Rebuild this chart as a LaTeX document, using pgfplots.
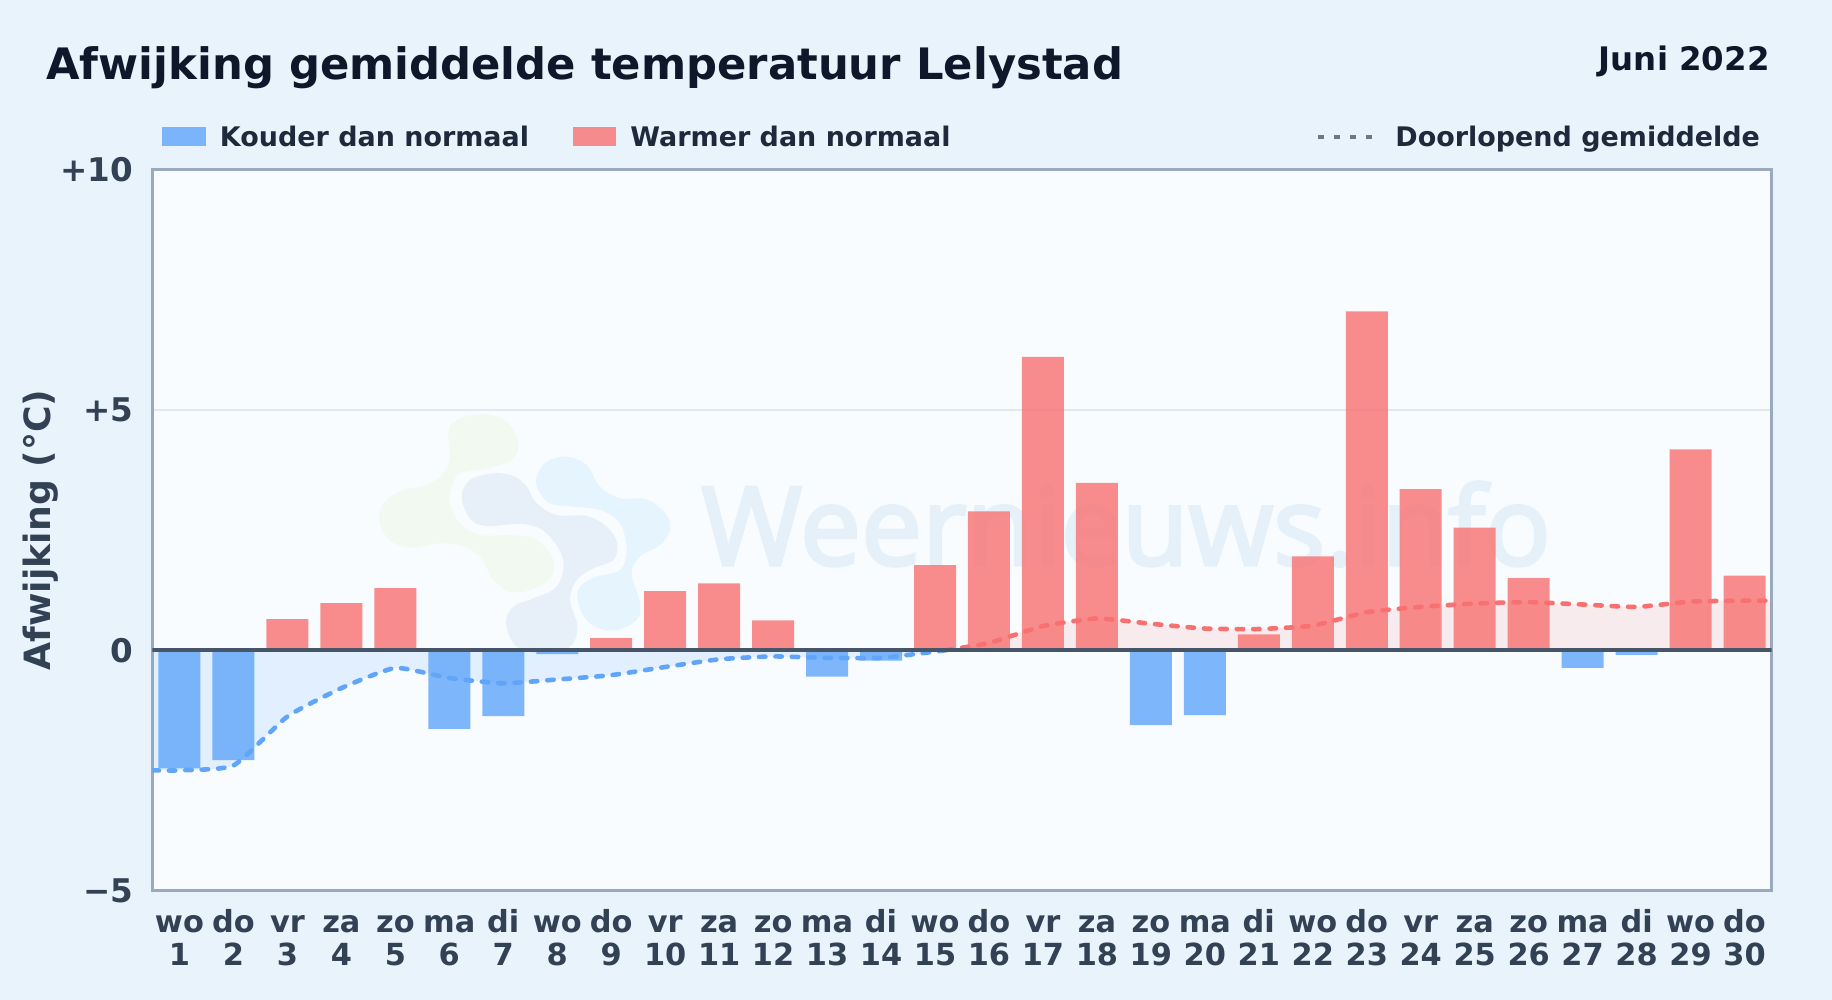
\documentclass[border=0pt]{standalone}
\usepackage{fontspec}
\setmainfont{DejaVu Sans}
\newfontfamily\wmfont[FakeBold=3]{Open Sans}
\usepackage{pgfplots}
\usepackage{pgfplotstable}
\pgfplotsset{compat=1.18}
\definecolor{bgpage}{HTML}{E9F3FC}
\definecolor{bgplot}{HTML}{F8FCFF}
\definecolor{titlecol}{HTML}{0F172A}
\definecolor{legcol}{HTML}{1E293B}
\definecolor{tickcol}{HTML}{334155}
\definecolor{spine}{HTML}{9AA9BE}
\definecolor{zeroline}{HTML}{475569}
\definecolor{gridcol}{HTML}{E2E8F0}
\definecolor{koud}{HTML}{60A5FA}
\definecolor{warm}{HTML}{F87171}
\definecolor{legdots}{HTML}{6B788C}

% days colder than normal
\pgfplotstableread{
day dev
1 -2.46
2 -2.29
6 -1.64
7 -1.37
8 -0.08
13 -0.55
14 -0.22
19 -1.56
20 -1.35
27 -0.37
28 -0.10
}\kouder
% days warmer than normal
\pgfplotstableread{
day dev
3 0.645
4 0.98
5 1.29
9 0.25
10 1.23
11 1.39
12 0.62
15 1.77
16 2.89
17 6.10
18 3.48
21 0.33
22 1.95
23 7.05
24 3.35
25 2.55
26 1.50
29 4.18
30 1.55
}\warmer
% running mean, negative part
\pgfplotstableread{
day avg
0.5 -2.50
1 -2.50
2 -2.40
3 -1.38
4 -0.79
5 -0.37
6 -0.58
7 -0.69
8 -0.61
9 -0.52
10 -0.35
11 -0.19
12 -0.13
13 -0.16
14 -0.16
15 -0.03
15.2 0
}\gemneg
% running mean, positive part
\pgfplotstableread{
day avg
15.2 0
16 0.15
17 0.50
18 0.66
19 0.55
20 0.45
21 0.44
22 0.51
23 0.79
24 0.90
25 0.97
26 1.00
27 0.95
28 0.90
29 1.01
30 1.03
30.5 1.03
}\gempos

\newcommand{\tl}[2]{\rule{0pt}{12.5pt}#1\\#2}

\begin{document}
\begin{tikzpicture}
\useasboundingbox (0pt,0pt) rectangle (916pt,-500pt);
\begin{scope}[x=0.5pt,y=-0.5pt]
  \fill[bgpage] (0,0) rectangle (1832,1000);
  \fill[bgplot] (152.5,169.5) rectangle (1771.5,890.5);
  % logo watermark
  \begin{scope}[shift={(360,390)},x=0.16667pt,y=-0.16667pt]
    \fill[fill={rgb,255:red,242;green,249;blue,241}] plot[smooth cycle,tension=0.6] coordinates {
      (265,130) (290,90) (370,72) (440,95) (475,160) (455,210) (380,235) (300,250)
      (275,290) (270,340) (300,400) (360,435) (450,435) (530,450) (580,510) (570,565)
      (510,600) (450,605) (400,570) (360,500) (310,470) (240,460) (160,473) (95,455)
      (60,400) (70,340) (130,300) (200,285) (250,250) (270,200)};
    \fill[fill={rgb,255:red,231;green,239;blue,248}] plot[smooth cycle,tension=0.6] coordinates {
      (305,320) (330,385) (380,408) (490,402) (560,430) (610,510) (590,590) (520,625)
      (460,650) (438,700) (470,770) (550,790) (630,770) (652,710) (630,630) (650,570)
      (700,535) (760,510) (772,460) (740,410) (680,378) (590,375) (530,340) (500,290)
      (460,258) (400,250) (330,270)};
    \fill[fill={rgb,255:red,230;green,244;blue,254}] plot[smooth cycle,tension=0.6] coordinates {
      (530,260) (560,215) (620,200) (680,225) (720,290) (780,325) (860,328) (920,375)
      (930,420) (900,465) (840,500) (815,550) (840,640) (830,690) (760,722) (690,700)
      (655,640) (660,590) (710,560) (780,540) (800,480) (780,400) (720,360) (640,350)
      (570,340) (535,300)};
  \end{scope}
  \node[anchor=base west,inner sep=0pt,text={rgb,255:red,230;green,240;blue,248}] at (701,565)
    {\wmfont\fontsize{54.4}{54.4}\selectfont Weernieuws.info};
  % title and month
  \node[anchor=base west,inner sep=0pt,text=titlecol] at (46,80)
    {\fontsize{21.66}{21.66}\selectfont\bfseries Afwijking gemiddelde temperatuur Lelystad};
  \node[anchor=base east,inner sep=0pt,text=titlecol] at (1770,71)
    {\fontsize{16.2}{16.2}\selectfont\bfseries Juni 2022};
  % legend
  \fill[koud,fill opacity=0.8] (162,127) rectangle (206,146);
  \node[anchor=base west,inner sep=0pt,text=legcol] at (219.5,146.5)
    {\fontsize{13.48}{13.48}\selectfont\bfseries Kouder dan normaal};
  \fill[warm,fill opacity=0.8] (573,127) rectangle (616,146);
  \node[anchor=base west,inner sep=0pt,text=legcol] at (630,146.5)
    {\fontsize{13.48}{13.48}\selectfont\bfseries Warmer dan normaal};
  \draw[legdots,line width=2pt,dash pattern=on 2.75pt off 5.25pt] (1318,136.7) -- (1374,136.7);
  \node[anchor=base west,inner sep=0pt,text=legcol] at (1395,146.5)
    {\fontsize{13.48}{13.48}\selectfont\bfseries Doorlopend gemiddelde};
\end{scope}

\begin{axis}[
  at={(76.25pt,-445.25pt)},
  anchor=south west,
  scale only axis,
  width=809.5pt,
  height=360.5pt,
  xmin=0.5, xmax=30.5,
  ymin=-5, ymax=10,
  xtick={1,...,30},
  xticklabels={{\tl{wo}{1}},{\tl{do}{2}},{\tl{vr}{3}},{\tl{za}{4}},{\tl{zo}{5}},{\tl{ma}{6}},{\tl{di}{7}},{\tl{wo}{8}},{\tl{do}{9}},{\tl{vr}{10}},{\tl{za}{11}},{\tl{zo}{12}},{\tl{ma}{13}},{\tl{di}{14}},{\tl{wo}{15}},{\tl{do}{16}},{\tl{vr}{17}},{\tl{za}{18}},{\tl{zo}{19}},{\tl{ma}{20}},{\tl{di}{21}},{\tl{wo}{22}},{\tl{do}{23}},{\tl{vr}{24}},{\tl{za}{25}},{\tl{zo}{26}},{\tl{ma}{27}},{\tl{di}{28}},{\tl{wo}{29}},{\tl{do}{30}}},
  ytick={-5,0,5,10},
  yticklabels={−5,0,+5,+10},
  major tick length=0pt,
  xticklabel style={align=center,font=\fontsize{15.2}{16.8}\selectfont\bfseries,text=tickcol,inner sep=0pt,yshift=-8.2pt},
  yticklabel style={font=\fontsize{16.3}{16.3}\selectfont\bfseries,text=tickcol,inner sep=0pt,xshift=-9.5pt},
  ylabel={Afwijking (°C)},
  every axis y label/.style={at={(axis description cs:0,0.5)},rotate=90,anchor=center,yshift=56pt},
  ylabel style={font=\fontsize{18.1}{18.1}\selectfont\bfseries,text=tickcol},
  ymajorgrids,
  grid style={gridcol,line width=1pt},
  axis line style={spine,line width=1.6pt},
]
  \addplot[draw=none,fill=koud,fill opacity=0.15,smooth,tension=0.3] table[x=day,y=avg]{\gemneg} \closedcycle;
  \addplot[draw=none,fill=warm,fill opacity=0.12,smooth,tension=0.3] table[x=day,y=avg]{\gempos} \closedcycle;
  \addplot[ybar,bar width=21pt,bar shift=0pt,draw=none,fill=koud,fill opacity=0.8] table[x=day,y=dev]{\kouder};
  \addplot[ybar,bar width=21pt,bar shift=0pt,draw=none,fill=warm,fill opacity=0.8] table[x=day,y=dev]{\warmer};
  \addplot[koud,line width=2.3pt,smooth,tension=0.3,line cap=round,dash pattern=on 3.2pt off 5pt] table[x=day,y=avg]{\gemneg};
  \addplot[warm,line width=2.3pt,smooth,tension=0.3,line cap=round,dash pattern=on 3.2pt off 5pt] table[x=day,y=avg]{\gempos};
  \addplot[zeroline,line width=2.2pt] coordinates {(0.5,0) (30.5,0)};
\end{axis}
\end{tikzpicture}
\end{document}
